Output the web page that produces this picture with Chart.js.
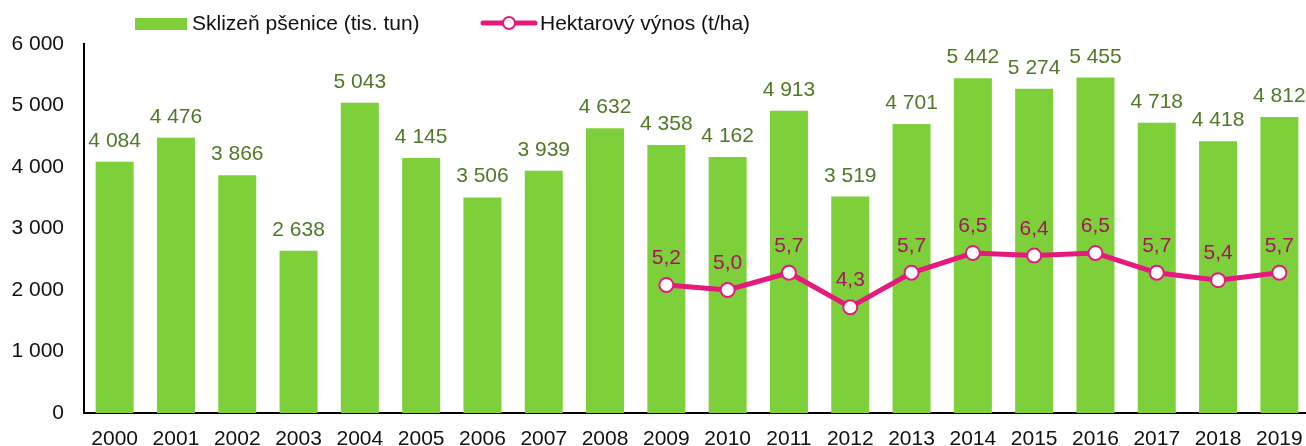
<!DOCTYPE html>
<html>
<head>
<meta charset="utf-8">
<script src="https://cdn.jsdelivr.net/npm/chart.js@4"></script>
<style>
  html, body { margin: 0; padding: 0; background: #fff; overflow: hidden; }
  #wrap { width: 1306px; height: 446px; overflow: hidden; }
</style>
</head>
<body>
<div id="wrap"><canvas id="chart" width="1319" height="446"></canvas></div>
<script>
// Data
const years = ['2000','2001','2002','2003','2004','2005','2006','2007','2008','2009',
  '2010','2011','2012','2013','2014','2015','2016','2017','2018','2019'];
const harvest = [4084, 4476, 3866, 2638, 5043, 4145, 3506, 3939, 4632, 4358,
  4162, 4913, 3519, 4701, 5442, 5274, 5455, 4718, 4418, 4812];
const yieldHa = [null, null, null, null, null, null, null, null, null, 5.2,
  5.0, 5.7, 4.3, 5.7, 6.5, 6.4, 6.5, 5.7, 5.4, 5.7];
const yTicks = [0, 1000, 2000, 3000, 4000, 5000, 6000];

const harvestLabel = 'Sklizeň pšenice (tis. tun)';
const yieldLabel = 'Hektarový výnos (t/ha)';

const GREEN = '#7ed03b';
const GREEN_TXT = '#4e7a27';
const PINK = '#e6197d';
const PINK_TXT = '#a3175d';
const FONT = '"Liberation Sans", Arial, sans-serif';

function fmtThousands(v) {
  return String(v).replace(/\B(?=(\d{3})+(?!\d))/g, ' ');
}

// value labels above bars and points
const valueLabels = {
  id: 'valueLabels',
  afterDatasetsDraw(chart) {
    const ctx = chart.ctx;
    ctx.save();
    ctx.font = '21px ' + FONT;
    ctx.textAlign = 'center';
    ctx.textBaseline = 'alphabetic';
    chart.getDatasetMeta(0).data.forEach((el, i) => {
      ctx.fillStyle = GREEN_TXT;
      ctx.fillText(fmtThousands(harvest[i]), el.x, el.y - 15);
    });
    chart.getDatasetMeta(1).data.forEach((el, i) => {
      if (yieldHa[i] == null) return;
      ctx.fillStyle = PINK_TXT;
      ctx.fillText(yieldHa[i].toFixed(1).replace('.', ','), el.x, el.y - 21);
    });
    ctx.restore();
  }
};

// legend drawn on top
const topLegend = {
  id: 'topLegend',
  afterDraw(chart) {
    const ctx = chart.ctx;
    ctx.save();
    ctx.fillStyle = GREEN;
    ctx.fillRect(135, 18, 52, 12);
    ctx.font = '21px ' + FONT;
    ctx.textBaseline = 'middle';
    ctx.fillStyle = '#111';
    ctx.fillText(harvestLabel, 192, 24);

    ctx.strokeStyle = PINK;
    ctx.lineWidth = 5;
    ctx.lineCap = 'round';
    ctx.beginPath(); ctx.moveTo(483, 23); ctx.lineTo(535, 23); ctx.stroke();
    ctx.beginPath(); ctx.arc(509, 23, 6, 0, Math.PI * 2);
    ctx.fillStyle = '#fff'; ctx.fill();
    ctx.lineWidth = 2; ctx.stroke();
    ctx.fillStyle = '#111';
    ctx.fillText(yieldLabel, 540, 24);
    ctx.restore();
  }
};

new Chart(document.getElementById('chart'), {
  data: {
    labels: years,
    datasets: [
      {
        type: 'bar',
        label: harvestLabel,
        data: harvest,
        backgroundColor: GREEN,
        borderWidth: 0,
        barPercentage: 0.62,
        categoryPercentage: 1,
        yAxisID: 'y',
        order: 2
      },
      {
        type: 'line',
        label: yieldLabel,
        data: yieldHa,
        borderColor: PINK,
        borderWidth: 5,
        pointRadius: 7,
        pointBorderWidth: 2,
        pointBackgroundColor: '#fff',
        pointBorderColor: PINK,
        spanGaps: false,
        yAxisID: 'y1',
        order: 1
      }
    ]
  },
  options: {
    responsive: false,
    animation: false,
    layout: { padding: { top: 44, right: 0, left: 0, bottom: 0 } },
    plugins: { legend: { display: false }, tooltip: { enabled: false } },
    scales: {
      x: {
        offset: true,
        grid: { display: false, drawTicks: false },
        border: { display: true, color: '#000', width: 2 },
        ticks: { color: '#111', font: { family: FONT, size: 21 }, padding: 14, maxRotation: 0, autoSkip: false },
        afterFit(s) { s.height = 33; }
      },
      y: {
        min: 0, max: 6000,
        afterBuildTicks(s) { s.ticks = yTicks.map(v => ({ value: v })); },
        grid: { display: false, drawTicks: false },
        border: { display: true, color: '#000', width: 2 },
        ticks: { color: '#111', font: { family: FONT, size: 21 }, padding: 20, callback: v => fmtThousands(v) },
        afterFit(s) { s.width = 84; }
      },
      y1: {
        display: false,
        position: 'right',
        min: 0, max: 15
      }
    }
  },
  plugins: [valueLabels, topLegend]
});
</script>
</body>
</html>
